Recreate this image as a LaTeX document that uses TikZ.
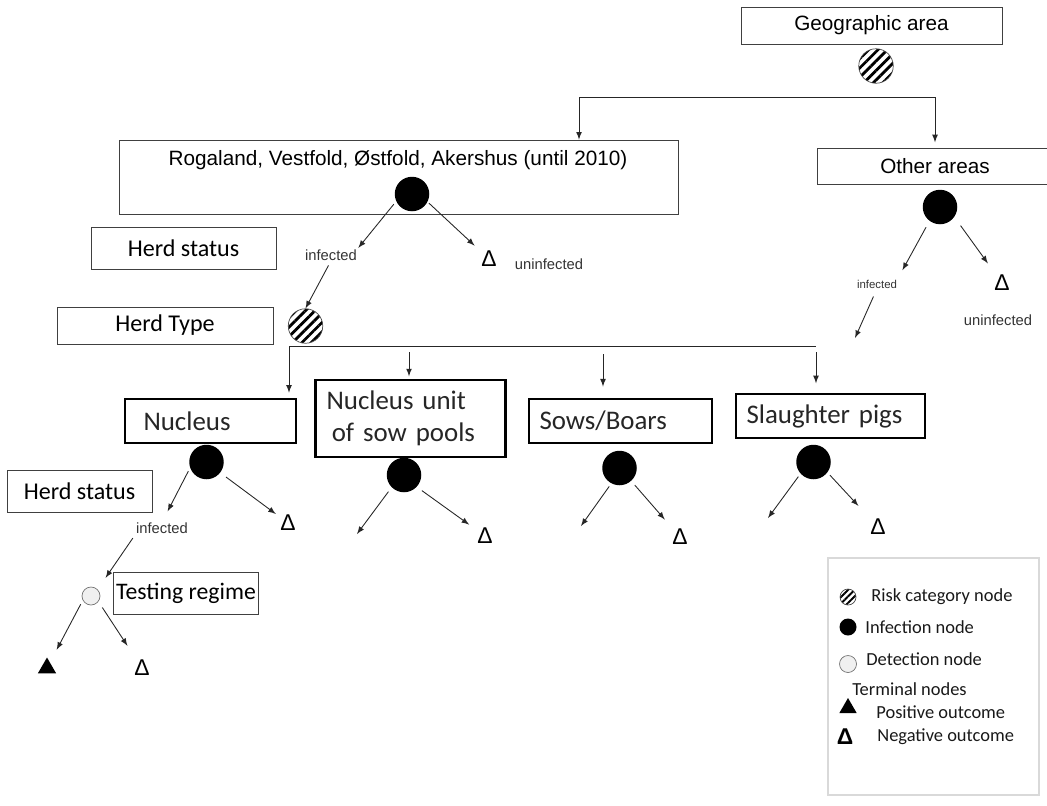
\documentclass[tikz,border=0pt]{standalone}
\usepackage{fontspec}
\setmainfont{Carlito}
\newfontfamily\arialfont{Liberation Sans}
\usetikzlibrary{shapes.geometric,patterns.meta}

\begin{document}
\begin{tikzpicture}[x=0.02cm, y=0.02cm]
\tikzstyle{every node}+=[inner sep=0pt]
\tikzstyle{box}=[draw=black!75, line width=0.5pt]
\tikzstyle{boldbox}=[draw=black, line width=1.2pt, align=left, minimum height=0.88cm, text=black!85, font=\fontsize{15.3}{18}\selectfont]
\tikzstyle{arialtxt}=[font=\arialfont\fontsize{11.8}{13}\selectfont]
\tikzstyle{calibtxt}=[font=\fontsize{13.7}{15}\selectfont]
\tikzstyle{infnode}=[circle, fill=black, minimum size=0.69cm]
\tikzstyle{risknode}=[circle, draw=black!70, line width=0.4pt, pattern={Lines[angle=45,distance=3.8pt,line width=1.6pt]}, minimum size=0.69cm]
\tikzstyle{detnode}=[circle, draw=black!55, line width=0.4pt, fill=black!6, minimum size=0.36cm]
\tikzstyle{negnode}=[font=\arialfont\fontsize{13}{13}\selectfont]
\tikzstyle{posnode}=[regular polygon, regular polygon sides=3, fill=black, minimum size=0.42cm]
\tikzstyle{lbl}=[font=\arialfont\fontsize{8.4}{9}\selectfont, text=black!80]
\tikzstyle{legtxt}=[anchor=west, text=black!90, font=\fontsize{10.5}{12}\selectfont]
\tikzstyle{arr}=[->, >=latex, line width=0.5pt, black!85]
\useasboundingbox (0,0) rectangle (1047,-805);
% geographic area
\node [box, arialtxt, minimum width=5.22cm, minimum height=0.74cm] (geo) at (871.5,-25.5) {Geographic area};
\node [risknode] (geo0) at (876,-66) {};
\coordinate (geoL) at (579,-97);
\coordinate (geoR) at (935,-97);
\draw [black!85, line width=0.5pt] (geoL) -- (geoR);
\node [box, minimum width=11.18cm, minimum height=1.48cm] (rog) at (398.5,-177) {};
\node [arialtxt] (rogtxt) at (398,-160) {Rogaland, Vestfold, Østfold, Akershus (until 2010)};
\node [box, arialtxt, minimum width=4.72cm, minimum height=0.72cm] (other) at (935,-166) {Other areas};
\draw [arr] (geoL) -- (geoL |- rog.north);
\draw [arr, shorten >=3pt] (geoR) -- (geoR |- other.north);
% herd status
\node [infnode] (rog0) at (412,-194) {};
\node [infnode] (oth0) at (940,-207) {};
\node [box, calibtxt, minimum width=3.7cm, minimum height=0.84cm] (hs1) at (183.5,-248) {Herd status};
\node [lbl] (roginf) at (331,-255) {infected};
\node [lbl] (roguninf) at (549,-264) {uninfected};
\node [negnode] (rogneg) at (489,-259) {Δ};
\node [lbl, font=\arialfont\fontsize{6.5}{7}\selectfont] (othinf) at (877,-284) {infected};
\node [lbl] (othuninf) at (998,-320) {uninfected};
\node [negnode] (othneg) at (1002,-283) {Δ};
\coordinate (othend) at (855,-338);
\draw [arr, shorten <=2pt, shorten >=1pt] (rog0.205) -- (roginf.north east);
\draw [arr, shorten <=1pt, shorten >=5pt] (rog0.-27) -- (rogneg);
\draw [arr, shorten <=4pt, shorten >=6pt] (oth0.233) -- (othinf.north east);
\draw [arr, shorten <=6pt, shorten >=8pt] (oth0.-35) -- (othneg);
\draw [arr, shorten <=5pt] (othinf.south) -- (othend);
% herd type
\node [box, calibtxt, minimum width=4.32cm, minimum height=0.74cm] (ht) at (165,-325.5) {Herd Type};
\node [risknode] (type0) at (305.5,-326) {};
\draw [arr, shorten <=3pt] (roginf.south) -- (type0.north);
\coordinate (typeL) at (289,-346);
\coordinate (typeR) at (816,-346);
\draw [black!85, line width=0.5pt] (typeL) -- (typeR);
\node [boldbox, text width=2.68cm, inner xsep=0.37cm] (nuc) at (210.5,-421) {Nucleus};
\node [boldbox, text width=3.36cm, inner xsep=0.22cm, minimum height=1.54cm] (nucu) at (410.5,-418.5) {Nucleus unit\\\hspace*{3pt}of sow pools};
\node [boldbox, text width=3.24cm, inner xsep=0.21cm] (sows) at (620.5,-421) {Sows/Boars};
\node [boldbox, text width=3.36cm, inner xsep=0.21cm] (slau) at (830.5,-416) {Slaughter pigs};
\coordinate (nucuT) at (409,-352);
\coordinate (sowsT) at (603,-354);
\coordinate (slauT) at (816,-352);
\draw [arr, shorten >=3pt] (typeL) -- (typeL |- nuc.north);
\draw [arr, shorten >=1.5pt] (nucuT) -- (nucuT |- nucu.north);
\draw [arr, shorten >=6.5pt] (sowsT) -- (sowsT |- sows.north);
\draw [arr, shorten >=5.5pt] (slauT) -- (slauT |- slau.north);
% infection nodes per herd type
\node [infnode] (nuc0) at (206.5,-462) {};
\node [infnode] (nucu0) at (404,-475) {};
\node [infnode] (sows0) at (619.5,-468) {};
\node [infnode] (slau0) at (813.5,-462) {};
\node [negnode] (nucneg) at (288,-523) {Δ};
\node [negnode] (nucuneg) at (485,-536) {Δ};
\node [negnode] (sowsneg) at (680,-537) {Δ};
\node [negnode] (slauneg) at (878,-527) {Δ};
\coordinate (nucuend) at (357,-534);
\coordinate (sowsend) at (581,-526);
\coordinate (slauend) at (768,-518);
\node [box, calibtxt, minimum width=2.9cm, minimum height=0.84cm] (hs2) at (79.5,-491) {Herd status};
\node [lbl] (nucinf) at (162,-528) {infected};
\draw [arr, shorten <=2pt, shorten >=7pt] (nuc0.200) -- (nucinf.north);
\draw [arr, shorten <=4pt, shorten >=3pt] (nuc0.-38) -- (nucneg);
\draw [arr, shorten <=3pt] (nucu0.225) -- (nucuend);
\draw [arr, shorten <=3.5pt, shorten >=5.5pt] (nucu0.-43) -- (nucuneg);
\draw [arr, shorten <=2pt] (sows0.242) -- (sowsend);
\draw [arr, shorten <=3pt, shorten >=7pt] (sows0.-48) -- (sowsneg);
\draw [arr, shorten <=2pt] (slau0.222) -- (slauend);
\draw [arr, shorten <=2pt, shorten >=10pt] (slau0.-37) -- (slauneg);
% testing regime
\node [detnode] (test0) at (91,-596) {};
\node [box, font=\fontsize{13.5}{15}\selectfont, minimum width=2.9cm, minimum height=0.84cm] (test) at (186,-593) {Testing regime};
\node [posnode] (testpos) at (47,-668) {};
\node [negnode] (testneg) at (142,-668) {Δ};
\draw [arr, shorten <=3pt, shorten >=8pt] (nucinf.south west) -- (test0.north east);
\draw [arr, shorten <=2.5pt, shorten >=8pt] (test0.208) -- (testpos);
\draw [arr, shorten <=4pt, shorten >=9.5pt] (test0.-37) -- (testneg);
% legend
\node [draw=black!15, line width=1.2pt, minimum width=4.22cm, minimum height=4.74cm] (legend) at (933.5,-676.5) {};
\node [risknode, minimum size=0.32cm, pattern={Lines[angle=45,distance=2.6pt,line width=1.1pt]}] (leg1) at (848,-597) {};
\node [legtxt] (leg1txt) at (871,-597) {Risk category node};
\node [infnode, minimum size=0.34cm] (leg2) at (848,-627) {};
\node [legtxt] (leg2txt) at (865,-627) {Infection node};
\node [detnode, minimum size=0.34cm] (leg3) at (848,-664) {};
\node [legtxt] (leg3txt) at (866,-659) {Detection node};
\node [legtxt] (leg4txt) at (852,-689) {Terminal nodes};
\node [posnode, minimum size=0.4cm] (leg5) at (848,-708) {};
\node [legtxt] (leg5txt) at (876,-712) {Positive outcome};
\node [negnode, font=\arialfont\bfseries\fontsize{13}{13}\selectfont] (leg6) at (845,-737) {Δ};
\node [legtxt] (leg6txt) at (877,-737) {Negative outcome};
\end{tikzpicture}
\end{document}
